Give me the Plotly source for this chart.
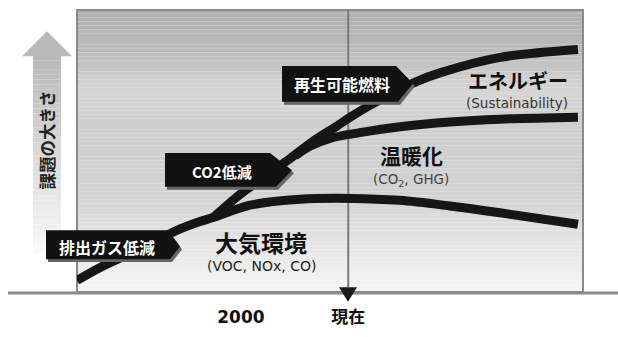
import plotly.graph_objects as go

# ---- data: x = time position (0-100 across the chart box), y = size of the issue (0-100)
air_x = [0, 4.5, 10.5, 16.4, 19.4, 24.3, 26.9, 34.2, 44.1, 54.0, 63.8, 73.7, 83.6, 99.0]
air_y = [4.1, 8.6, 13.7, 18.8, 21.6, 25.0, 26.4, 30.8, 32.9, 33.2, 32.5, 30.5, 28.1, 24.0]

energy_x = [26.9, 32.2, 37.2, 42.1, 46.6, 51.4, 54.0, 58.5, 67.2, 71.7, 83.6, 99.0]
energy_y = [26.4, 34.6, 41.1, 47.3, 53.4, 58.9, 62.0, 66.8, 74.7, 77.7, 83.2, 86.0]

co2_x = [43.1, 46.0, 50.0, 55.9, 63.8, 73.7, 83.6, 99.0]
co2_y = [48.3, 51.7, 54.5, 56.5, 58.6, 60.3, 61.3, 62.0]

tick_vals = [32.4, 53.6]
tick_text = ["2000", "現在"]
now_x = 53.6

# ---- geometry helpers (pixel -> paper), chart box is x 77..583, y 10..302
W, H = 618, 337
L, R, T, B = 77, 583, 10, 302
def px(x):
    return (x - L) / (R - L)
def py(y):
    return (B - y) / (B - T)

JP = "Noto Sans CJK JP"
LAT = "DejaVu Sans"

fig = go.Figure()
line_col = "#161616"
for xs, ys in [(air_x, air_y), (energy_x, energy_y), (co2_x, co2_y)]:
    fig.add_trace(go.Scatter(x=xs, y=ys, mode="lines",
                             line=dict(color=line_col, width=9, shape="spline", smoothing=0.9),
                             hoverinfo="skip", showlegend=False))

shapes = []
# background gradient bands
stops = [(10, 176), (50, 186), (95, 214), (130, 206), (200, 210), (250, 228), (302, 246)]
def gray_at(y):
    for (y0, g0), (y1, g1) in zip(stops[:-1], stops[1:]):
        if y0 <= y <= y1:
            return g0 + (g1 - g0) * (y - y0) / (y1 - y0)
    return stops[-1][1]
step = 4
y = T
while y < B:
    g = int(round(gray_at(y + step / 2)))
    shapes.append(dict(type="rect", xref="paper", yref="paper", x0=0, x1=1,
                       y0=py(min(y + step, B)), y1=py(y), line=dict(width=0),
                       fillcolor=f"rgb({g},{g},{g})", layer="below"))
    y += step

# box border
shapes.append(dict(type="rect", xref="paper", yref="paper", x0=0, x1=1, y0=0, y1=1,
                   line=dict(color="#8a8a8a", width=2), layer="below"))
# 現在 vertical line
shapes.append(dict(type="line", xref="x", yref="paper", x0=now_x, x1=now_x, y0=py(297), y1=1,
                   line=dict(color="#7a7a7a", width=2), layer="below"))
# baseline
shapes.append(dict(type="line", xref="paper", yref="paper", x0=px(8), x1=px(620), y0=py(303), y1=py(303),
                   line=dict(color="#8c8c8c", width=3), layer="above"))
# down triangle at 現在
shapes.append(dict(type="path", xref="paper", yref="paper",
                   path=f"M{px(339)},{py(297)} L{px(357)},{py(297)} L{px(348)},{py(312)} Z",
                   fillcolor="#1a1a1a", line=dict(width=0), layer="above"))

# left big arrow (fading shaft)
sy = 57
while sy < 262:
    t = (sy - 57) / (262 - 57)
    g = int(round(185 + (250 - 185) * t))
    shapes.append(dict(type="rect", xref="paper", yref="paper", x0=px(33), x1=px(61),
                       y0=py(sy + 5), y1=py(sy), line=dict(width=0),
                       fillcolor=f"rgb({g},{g},{g})", layer="below"))
    sy += 5
shapes.append(dict(type="path", xref="paper", yref="paper",
                   path=f"M{px(47)},{py(32)} L{px(72)},{py(58)} L{px(22)},{py(58)} Z",
                   fillcolor="#b9b9b9", line=dict(width=0), layer="below"))

# callouts (shadow + black pentagon)
def callout(pts, dx=2, dy=3):
    def path(off_x, off_y):
        s = " L".join(f"{px(a + off_x)},{py(b + off_y)}" for a, b in pts)
        return "M" + s + " Z"
    shapes.append(dict(type="path", xref="paper", yref="paper", path=path(dx, dy),
                       fillcolor="#666666", line=dict(width=0), layer="above"))
    shapes.append(dict(type="path", xref="paper", yref="paper", path=path(0, 0),
                       fillcolor="#111111", line=dict(width=0), layer="above"))

callout([(282, 68), (396, 68), (413, 86), (398, 105), (282, 105)])
callout([(165, 158), (270, 158), (292, 176), (276, 193), (165, 193)])
callout([(46, 238), (168, 238), (180, 255), (170, 268), (46, 268)])

ann = []
def text(x, y, s, size, color="#111111", bold=True, family=JP, angle=0):
    ann.append(dict(xref="paper", yref="paper", x=px(x), y=py(y), text=s, showarrow=False,
                    xanchor="center", yanchor="middle", textangle=angle,
                    font=dict(family=family, size=size, color=color,
                              weight="bold" if bold else "normal")))

text(342, 87, "再生可能燃料", 16, "#ffffff")
text(222, 177, "CO2低減", 15, "#ffffff")
text(107, 255, "排出ガス低減", 16, "#ffffff")
text(518, 83, "エネルギー", 20)
text(517, 106, "(Sustainability)", 13.5, "#333333", bold=False, family=LAT)
text(411, 160, "温暖化", 21)
text(411, 186, "(CO<sub>2</sub>, GHG)", 13.5, "#444444", bold=False, family=LAT)
text(261, 250, "大気環境", 23)
text(261, 275, "(VOC, NOx, CO)", 14, "#222222", bold=False, family=LAT)
text(47, 145, "課題の大きさ", 16.5, "#222222", angle=-90)

fig.update_layout(
    width=W, height=H, autosize=False,
    margin=dict(l=L, r=W - R, t=T, b=H - B),
    paper_bgcolor="#ffffff", plot_bgcolor="rgba(0,0,0,0)",
    shapes=shapes, annotations=ann,
    xaxis=dict(range=[0, 100], showgrid=False, zeroline=False, showline=False,
               tickmode="array", tickvals=tick_vals, ticktext=tick_text, ticks="",
               ticklabelstandoff=13,
               tickfont=dict(family=LAT + ", " + JP, size=17, color="#111111", weight="bold"),
               fixedrange=True),
    yaxis=dict(range=[0, 100], showgrid=False, zeroline=False, showline=False,
               showticklabels=False, ticks="", fixedrange=True),
)
fig.write_html("out.html")
